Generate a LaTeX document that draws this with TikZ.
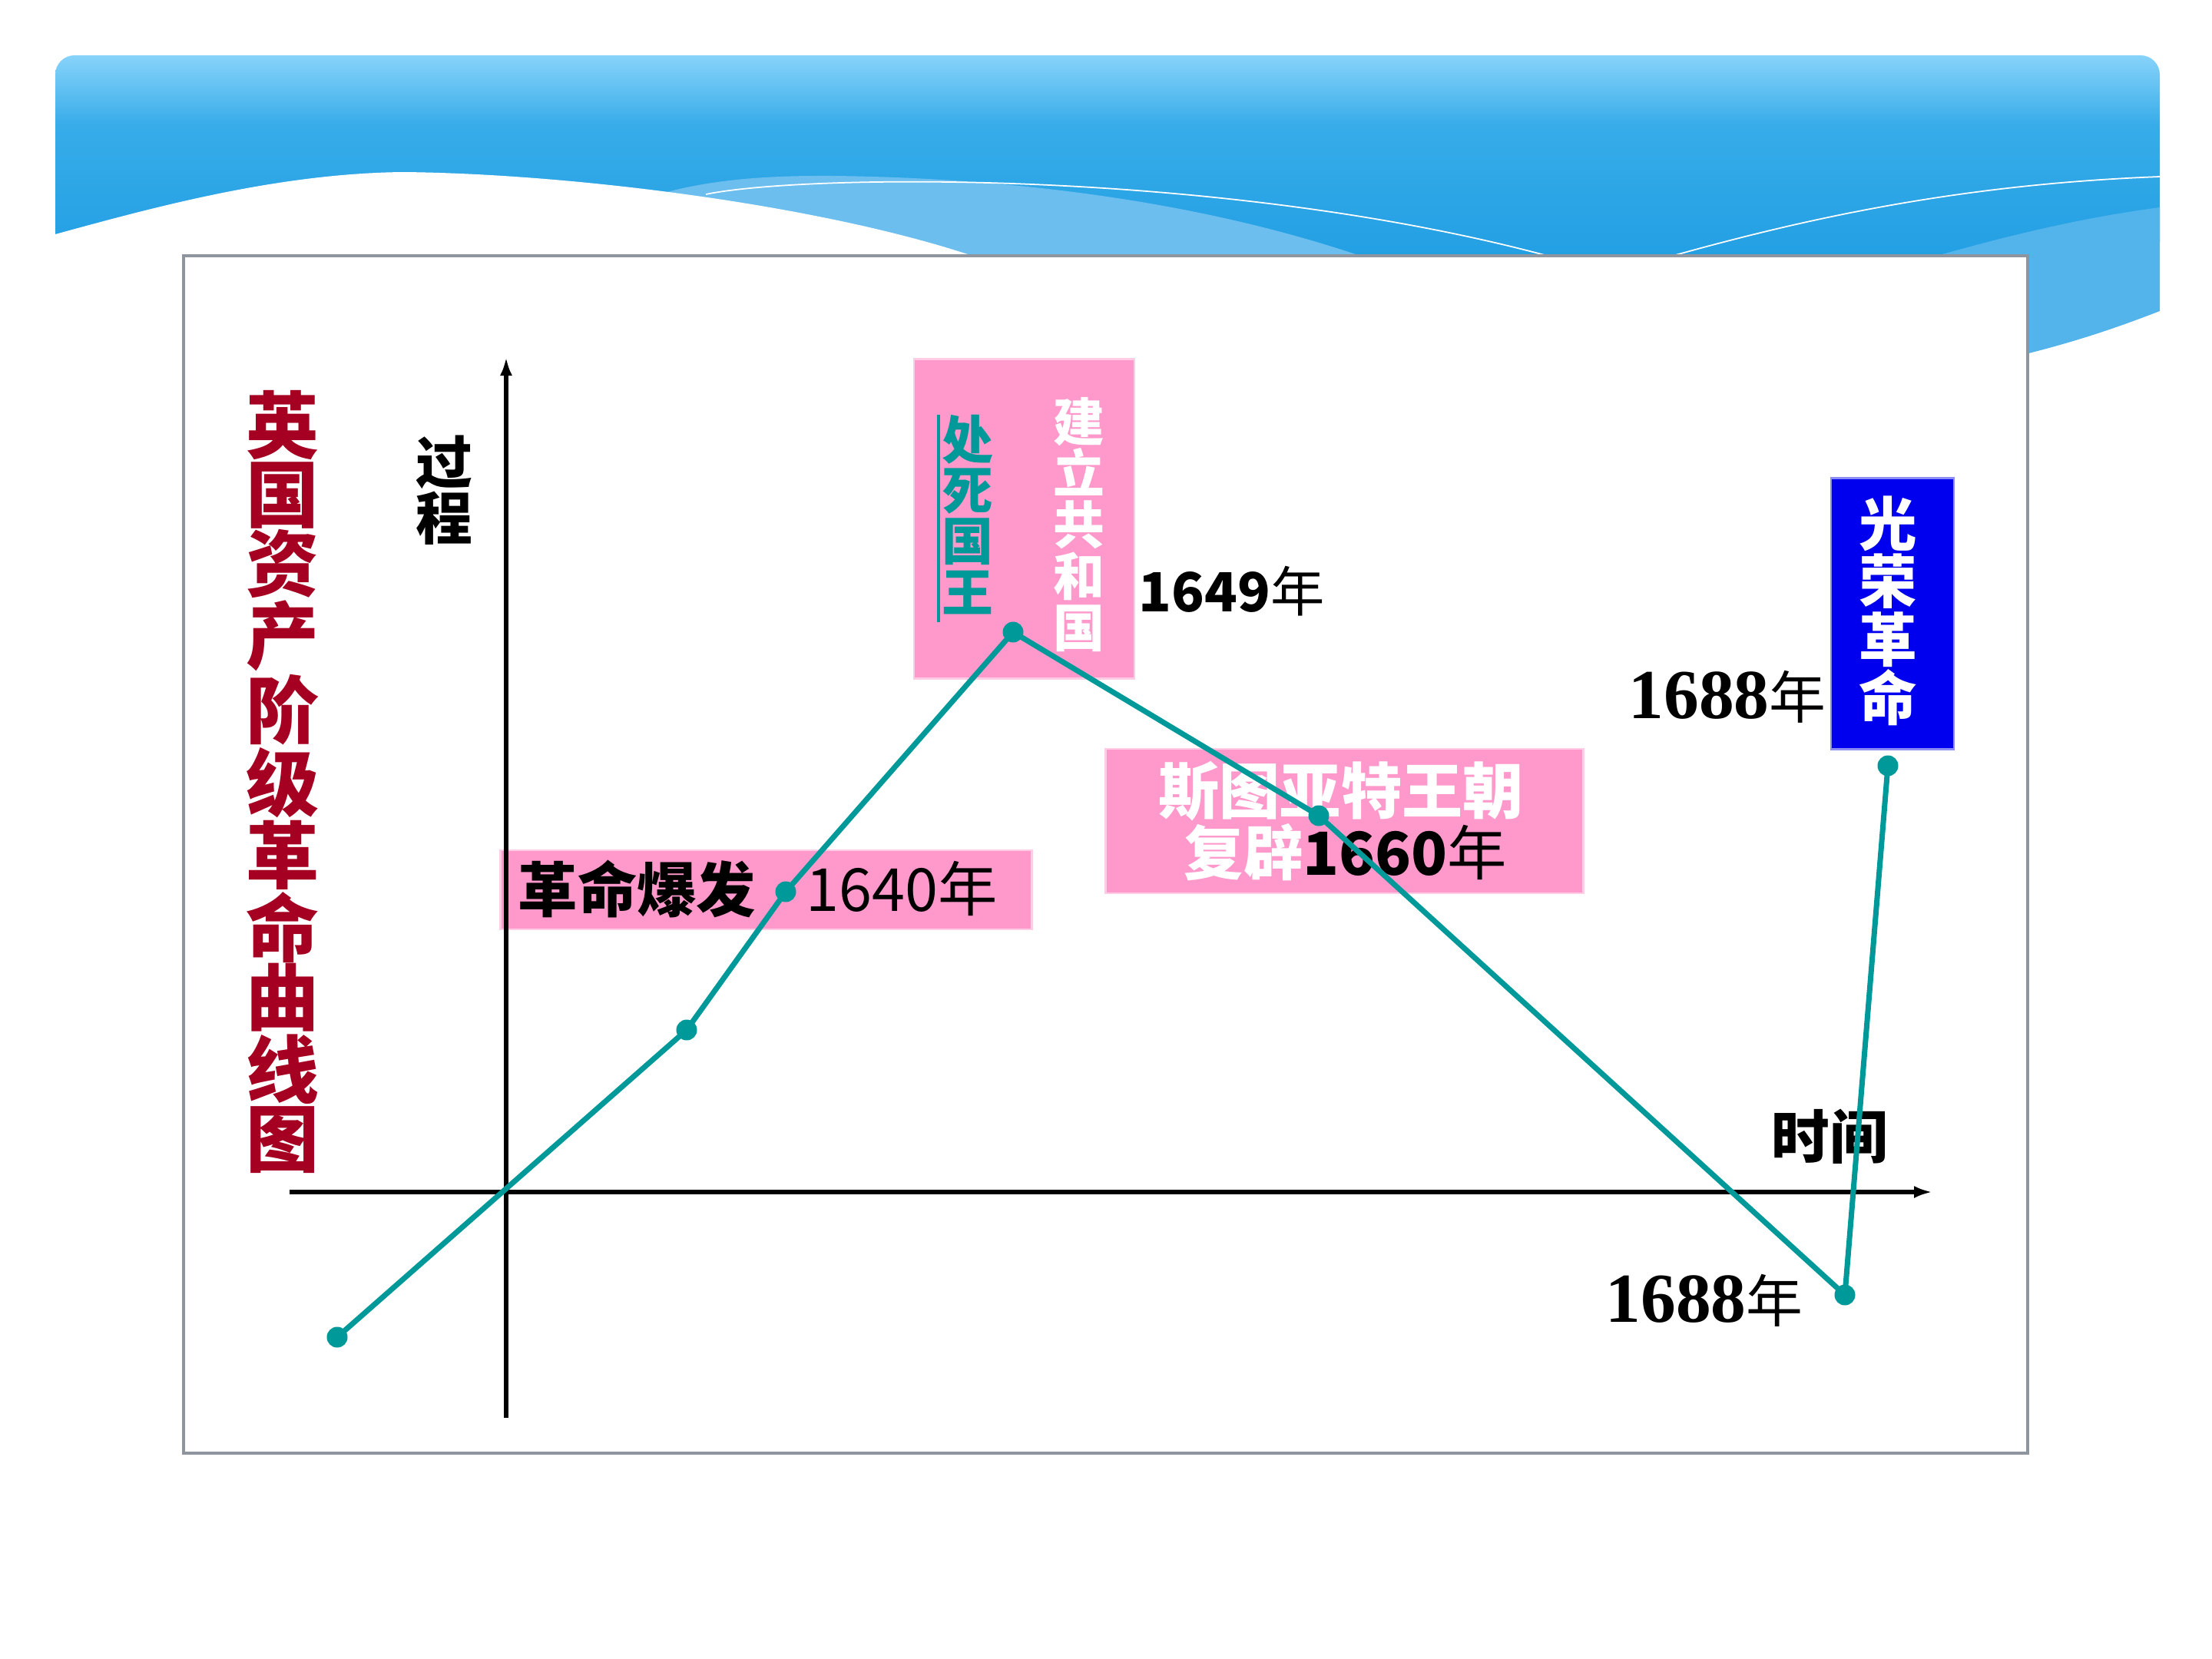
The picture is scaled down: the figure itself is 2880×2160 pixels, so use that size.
\documentclass[tikz,border=0pt]{standalone}
\usepackage{fontspec}
\setmainfont{Noto Sans CJK SC}
\newfontfamily\serifdig{Liberation Serif}
\usetikzlibrary{arrows.meta}

\definecolor{bandtop}{HTML}{87D3FA}
\definecolor{bandmid}{HTML}{37ACE9}
\definecolor{bandlo}{HTML}{229FE3}
\definecolor{hilllight}{HTML}{6CBEEE}
\definecolor{sidelight}{HTML}{52B4EB}
\definecolor{framegrey}{HTML}{8E959E}
\definecolor{boxpink}{HTML}{FF99CC}
\definecolor{pinkedge}{HTML}{FFCCE6}
\definecolor{gloryblue}{HTML}{0000EE}
\definecolor{gloryedge}{HTML}{8C8CF5}
\definecolor{teal2}{HTML}{009999}
\definecolor{titlered}{HTML}{A50021}

\pgfdeclareverticalshading{bandshade}{100bp}{color(0bp)=(bandlo); color(25bp)=(bandlo); color(58bp)=(bandmid); color(75bp)=(bandtop); color(100bp)=(bandtop)}

\newcommand\fsz[2]{\fontsize{#1}{#2}\selectfont}

\begin{document}
\begin{tikzpicture}[x=0.01cm, y=-0.01cm,
    curve/.style={draw=teal2, line width=2pt, line join=round},
    dot/.style={circle, fill=teal2, inner sep=0pt, minimum size=0.27cm},
    pinkbox/.style={fill=boxpink, draw=pinkedge, line width=0.8pt},
    axis/.style={line width=1.8pt, -{Latex[length=0.24cm, width=0.16cm]}},
    txt/.style={inner sep=0pt},
    vtxt/.style={inner sep=0pt, align=center}]
\useasboundingbox (0,0) rectangle (2880,2160);

% header band
\shade[shading=bandshade, rounded corners=0.25cm] (72,340) -- (72,72) -- (2812,72) -- (2812,340) -- cycle;
\fill[hilllight] (700,345) .. controls (800,240) and (950,228) .. (1085,229)
    .. controls (1350,232) and (1600,270) .. (1805,345) -- cycle;
\fill[white] (72,305) .. controls (200,270) and (360,226) .. (524,224)
    .. controls (750,226) and (1100,270) .. (1300,345) -- (60,345) -- cycle;
\draw[white, line width=0.5pt] (919,253) .. controls (1050,226) and (1600,220) .. (2022,335);
\draw[white, line width=0.5pt] (2178,333) .. controls (2350,285) and (2550,240) .. (2812,230);
\fill[sidelight] (2480,345) .. controls (2600,310) and (2700,285) .. (2812,270) -- (2812,405)
    .. controls (2760,425) and (2700,447) .. (2600,470) -- (2480,470) -- cycle;

% frame
\draw[framegrey, line width=1.2pt, fill=white] (239,333) rectangle (2640,1892);

% boxes
\node[pinkbox, minimum width=6.91cm, minimum height=1.03cm] (boxrev) at (997.5,1158.5) {};
\node[pinkbox, minimum width=2.87cm, minimum height=4.15cm] (boxrep) at (1333.5,675.5) {};
\node[pinkbox, minimum width=6.21cm, minimum height=1.88cm] (boxres) at (1750.5,1069) {};
\node[fill=gloryblue, draw=gloryedge, line width=0.8pt, minimum width=1.60cm, minimum height=3.52cm] (boxglory) at (2464,799) {};

% texts
\node[vtxt, text=titlered, font=\fsz{27}{25.6}\bfseries] (title) at (368,1018) {英\\国\\资\\产\\阶\\级\\革\\命\\曲\\线\\图};
\node[vtxt, font=\fsz{21}{19.5}\bfseries] (process) at (578,638) {过\\程};
\node[txt, font=\fsz{22}{22}\bfseries, anchor=west] (rev) at (674,1157) {革命爆发};
\node[txt, font=\fsz{22}{22}, anchor=west] (y1640) at (1049,1157) {1640年};
\node[vtxt, text=teal2, font=\fsz{19}{18.8}\bfseries] (kill) at (1260,670) {处\\死\\国\\王};
\draw[teal2, line width=1.1pt] ([xshift=-0.04cm]kill.north west) -- ([xshift=-0.04cm, yshift=-0.1cm]kill.south west);
\node[vtxt, text=white, font=\fsz{19}{19}\bfseries] (repub) at (1405,683) {建\\立\\共\\和\\国};
\node[txt, font=\fsz{20}{20}, anchor=west] (y1649) at (1482,770) {\textbf{1649}年};
\node[txt, text=white, font=\fsz{22.5}{22.5}\bfseries] (stuart) at (1746,1030) {斯图亚特王朝};
\node[txt, font=\fsz{22}{22}] (restore) at (1752,1110) {\textcolor{white}{\bfseries 复辟}\textbf{1660}年};
\node[vtxt, text=white, font=\fsz{21.5}{21.5}\bfseries] (glory) at (2458,795) {光\\荣\\革\\命};
\node[txt, font=\fsz{21}{21}, anchor=east] (y1688a) at (2378,907) {{\serifdig\bfseries\fsz{26}{26}1688}年};
\node[txt, font=\fsz{21}{21}, anchor=west] (y1688b) at (2090,1693) {{\serifdig\bfseries\fsz{26}{26}1688}年};
\node[txt, font=\fsz{21.5}{21.5}\bfseries] (time) at (2382,1480) {时间};

% axes
\coordinate (ybot) at (659,1846);
\coordinate (ytop) at (659,465);
\coordinate (xleft) at (377,1552);
\coordinate (xright) at (2516,1552);
\draw[axis] (ybot) -- (ytop);
\draw[axis] (xleft) -- (xright);

% curve
\coordinate (p0) at (439,1741);
\coordinate (p1) at (894,1341);
\coordinate (p2) at (1023,1161);
\coordinate (p3) at (1319,823);
\coordinate (p4) at (1717,1062);
\coordinate (p5) at (2402,1686);
\coordinate (p6) at (2458,997);
\draw[curve] (p0) -- (p1) -- (p2) -- (p3) -- (p4) -- (p5) -- (p6);
\foreach \p in {p0,p1,p2,p3,p4,p5,p6}
    \node[dot] (d\p) at (\p) {};
\end{tikzpicture}
\end{document}
